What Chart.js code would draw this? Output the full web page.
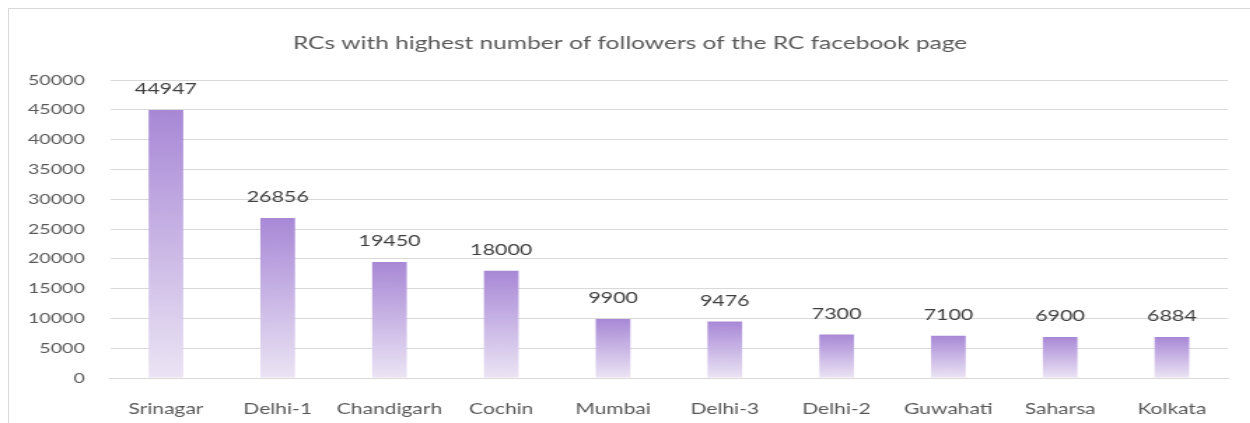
<!DOCTYPE html>
<html>
<head>
<meta charset="utf-8">
<script src="https://cdn.jsdelivr.net/npm/chart.js@4/dist/chart.umd.min.js"></script>
<style>
  html, body { margin:0; padding:0; background:#fff; }
  #wrap { position:relative; width:1250px; height:423px; overflow:hidden; }
  #frame { position:absolute; left:8px; top:8px; width:1260px; height:440px; border:1px solid #d9d9d9; box-sizing:border-box; }
  /* the source picture is stretched sideways, so the chart is drawn narrow and widened */
  #stretch { position:absolute; left:0; top:0; width:893px; height:423px; transform:scaleX(1.4); transform-origin:0 0; }
</style>
</head>
<body>
<div id="wrap">
  <div id="frame"></div>
  <div id="stretch"><canvas id="rcChart" width="893" height="423"></canvas></div>
</div>
<script>
const chartTitle = 'RCs with highest number of followers of the RC facebook page';
const centres = ['Srinagar','Delhi-1','Chandigarh','Cochin','Mumbai','Delhi-3','Delhi-2','Guwahati','Saharsa','Kolkata'];
const followers = [44947, 26856, 19450, 18000, 9900, 9476, 7300, 7100, 6900, 6884];
const yMax = 50000, yStep = 5000;

const fontFam = "Lato, 'Open Sans', sans-serif";
const textCol = '#595959';

// bar gradient, dark at top fading out at the base
function barFill(c){
    const chart = c.chart;
    const y = chart.scales && chart.scales.y;
    if(!y || c.raw === undefined) return '#b59ddb';
    const top = y.getPixelForValue(c.raw), base = y.getPixelForValue(0);
    if(!isFinite(top) || !isFinite(base) || top === base) return '#b59ddb';
    const g = chart.ctx.createLinearGradient(0, top, 0, base);
    g.addColorStop(0, '#a888d6');
    g.addColorStop(1, '#ebe4f4');
    return g;
}

// value labels above the bars, and title nudged right like the original
const valueLabels = {
    id:'valueLabels',
    afterLayout(chart){
        if(chart.titleBlock) chart.titleBlock.left = 23;
    },
    afterDatasetsDraw(chart){
        const ctx = chart.ctx;
        const meta = chart.getDatasetMeta(0);
        ctx.save();
        ctx.font = "15.3px " + fontFam;
        ctx.fillStyle = '#404040';
        ctx.textAlign = 'center';
        ctx.textBaseline = 'bottom';
        meta.data.forEach((bar,i)=>{
            ctx.fillText(String(followers[i]), bar.x, bar.y - 13);
        });
        ctx.restore();
    }
};

const ctx = document.getElementById('rcChart').getContext('2d');
new Chart(ctx, {
    type:'bar',
    data:{labels:centres, datasets:[{
        data:followers,
        backgroundColor:barFill,
        borderWidth:0,
        barPercentage:0.31,
        categoryPercentage:1
    }]},
    options:{
        responsive:false,
        animation:false,
        layout:{padding:{left:0, right:16, top:0, bottom:0}},
        plugins:{
            legend:{display:false},
            tooltip:{enabled:false},
            title:{
                display:true, text:chartTitle, color:textCol,
                font:{family:fontFam, size:17.5, weight:'normal'},
                padding:{top:33, bottom:26}
            }
        },
        scales:{
            x:{
                afterFit:s=>{ s.height = 45; },
                grid:{display:false},
                border:{color:'#d9d9d9'},
                ticks:{color:textCol, font:{family:fontFam, size:15}, padding:14,
                       minRotation:0, maxRotation:0, autoSkip:false}
            },
            y:{
                min:0, max:yMax,
                afterFit:s=>{ s.width = 78.6; },
                grid:{color:'#d9d9d9', drawTicks:false},
                border:{display:false},
                ticks:{stepSize:yStep, color:textCol, font:{family:fontFam, size:14}, padding:18,
                       callback:v=>String(v)}
            }
        }
    },
    plugins:[valueLabels]
});
</script>
</body>
</html>
